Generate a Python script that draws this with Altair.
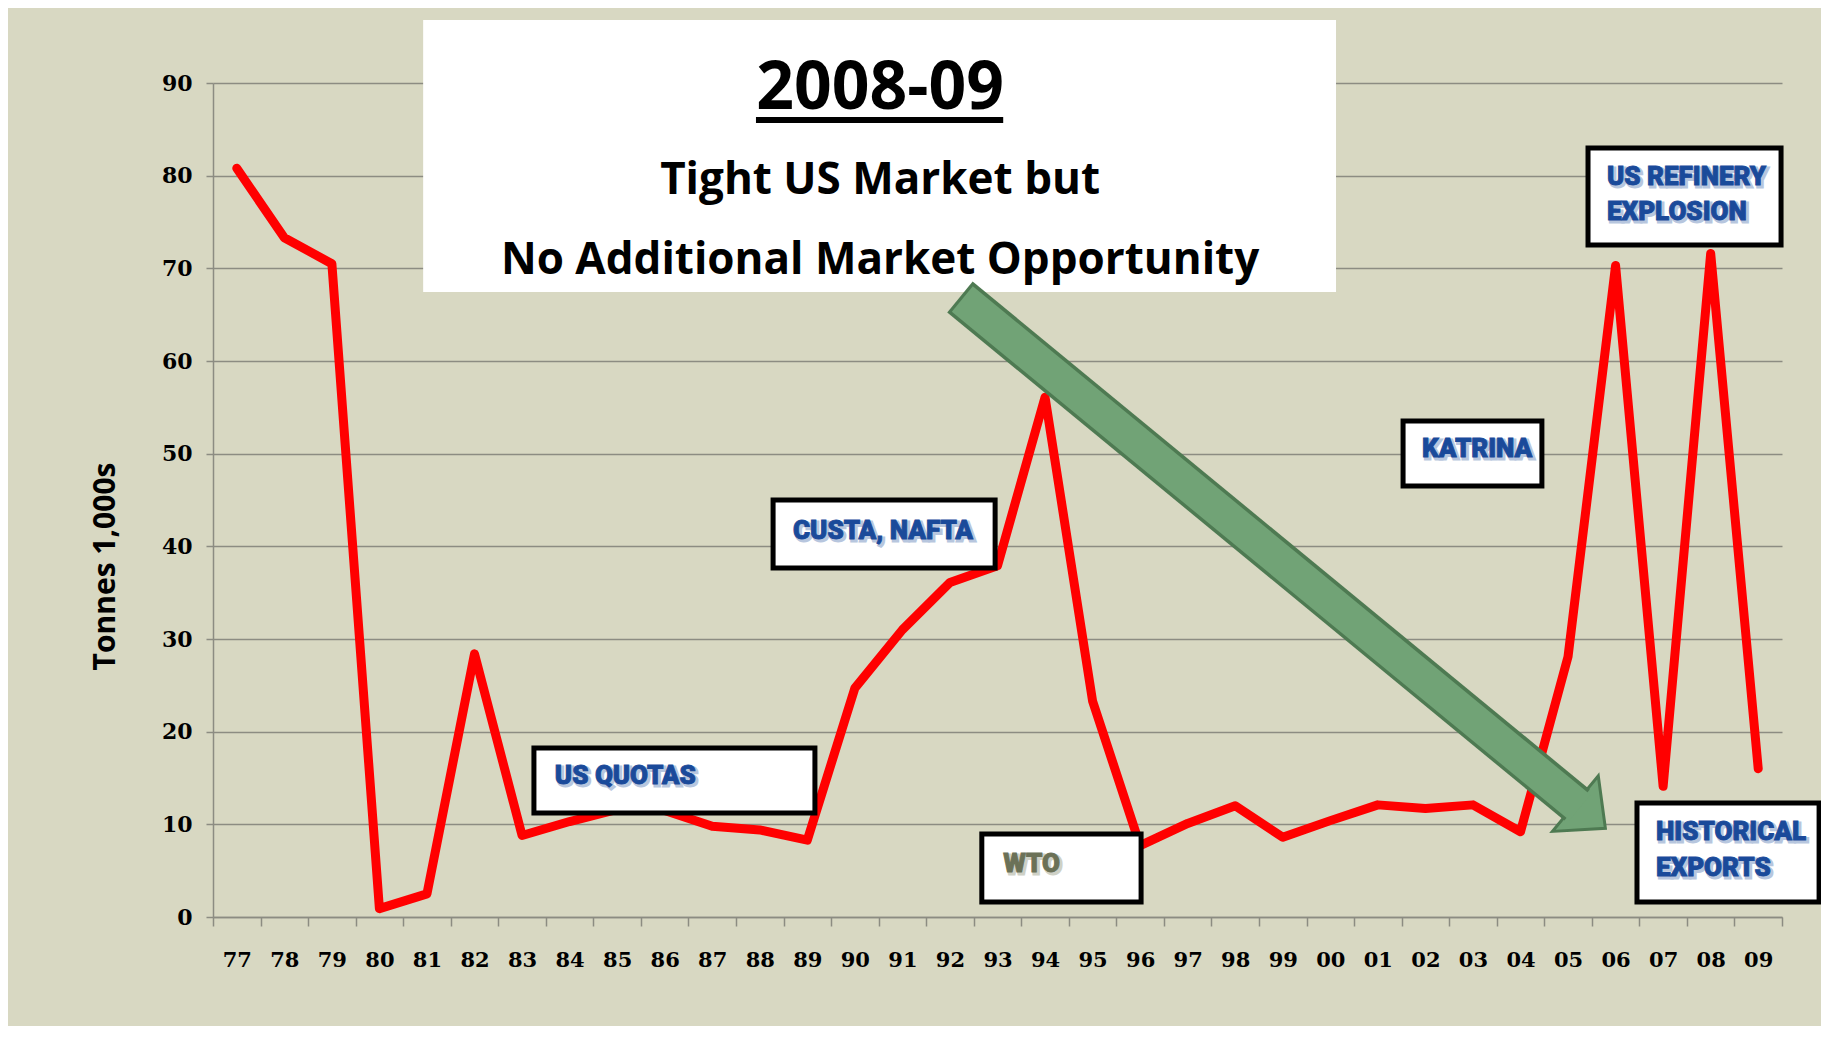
import altair as alt
import pandas as pd

# ---- data ----
years = ["77", "78", "79", "80", "81", "82", "83", "84", "85", "86", "87", "88",
         "89", "90", "91", "92", "93", "94", "95", "96", "97", "98", "99", "00",
         "01", "02", "03", "04", "05", "06", "07", "08", "09"]
tonnes = [80.8, 73.3, 70.5, 0.9, 2.5, 28.4, 8.8, 10.3, 11.6, 11.5, 9.8, 9.4,
          8.3, 24.7, 31.0, 36.1, 37.9, 56.1, 23.3, 7.7, 10.1, 12.0, 8.6, 10.4,
          12.1, 11.7, 12.1, 9.2, 28.1, 70.3, 14.1, 71.6, 16.0]
y_ticks = [0, 10, 20, 30, 40, 50, 60, 70, 80, 90]

# annotation boxes (data units: x = year index, y = tonnes)
box_x0 = [6.25, 11.28, 15.67, 24.53, 28.42, 29.45]
box_x1 = [12.16, 15.95, 19.02, 27.45, 32.48, 33.28]
box_y0 = [18.24, 45.0, 8.96, 53.52, 82.99, 12.30]
box_y1 = [11.22, 37.66, 1.62, 46.51, 72.52, 1.62]

ann_text = ["US QUOTAS", "CUSTA, NAFTA", "KATRINA", "US REFINERY", "EXPLOSION",
            "HISTORICAL", "EXPORTS"]
ann_x = [6.69, 11.70, 24.93, 28.82, 28.82, 29.85, 29.85]
ann_y = [15.22, 41.65, 50.50, 79.86, 76.08, 9.17, 5.29]
wto_text = ["WTO"]
wto_x = [16.12]
wto_y = [5.72]

title_box_x = [3.92, 23.12]
title_box_y = [96.80, 67.45]
head_text = ["2008-09"]
head_x = [13.53]
head_y = [89.3]
sub_text = ["Tight US Market but", "No Additional Market Opportunity"]
sub_x = [13.53, 13.53]
sub_y = [79.4, 70.8]
underline_x = [10.92, 16.12]
underline_y = [86.0]

shaft_x = [15.21, 28.19]
shaft_y = [66.91, 12.09]
shaft_in_x = [15.26, 28.25]
shaft_in_y = [66.70, 11.82]
arrow_head_x = [28.47]
arrow_head_y = [10.90]

# ---- styles ----
BG = "#D8D8C2"
GRID = "#8C8C82"
BLUE = "#1A4A9A"
SHADOW = "#7E98C4"
OLIVE = "#6B7157"
OLIVE_SH = "#A9AD98"
GREEN = "#71A376"
DKGREEN = "#4E7A52"

n = len(years)
df = pd.DataFrame({"x": list(range(n)), "y": tonnes, "year": years})

xs = alt.Scale(domain=[-0.5, n - 0.5], nice=False, zero=False)
ys = alt.Scale(domain=[0, 90], nice=False, zero=True)

label_expr = "[" + ",".join("'%s'" % y for y in years) + "][datum.value + 0.5] || ''"
x_axis = alt.Axis(
    values=[i - 0.5 for i in range(n + 1)], labelExpr=label_expr,
    labelOffset=23.77, labelFlush=False, labelOverlap=False, grid=False,
    domainColor=GRID, domainWidth=1.5, tickColor=GRID, tickWidth=1.5, tickSize=9,
    labelPadding=34, labelBaseline="middle", labelAlign="center",
    labelFont="DejaVu Serif", labelFontWeight="bold", labelFontSize=21,
    labelColor="#000000", title=None)
y_axis = alt.Axis(
    values=y_ticks, grid=True, gridColor=GRID, gridWidth=1.5,
    domainColor=GRID, domainWidth=1.5, tickColor=GRID, tickWidth=1.5, tickSize=7,
    labelPadding=14, labelFont="DejaVu Serif", labelFontWeight="bold",
    labelFontSize=22, labelColor="#000000",
    title="Tonnes 1,000s", titleFont="Open Sans", titleFontSize=30,
    titleFontWeight="bold", titleColor="#000000", titleAngle=270,
    titleX=-108, titleY=483, titleAlign="center", titleBaseline="middle")

X = alt.X("x:Q", scale=xs, axis=x_axis)
Y = alt.Y("y:Q", scale=ys, axis=y_axis)

line = alt.Chart(df).mark_line(
    color="#FF0000", strokeWidth=9, strokeCap="round", strokeJoin="round"
).encode(x=X, y=Y)

title_box = alt.Chart(pd.DataFrame({
    "x": [title_box_x[0]], "x2": [title_box_x[1]],
    "y": [title_box_y[0]], "y2": [title_box_y[1]]})
).mark_rect(fill="white", strokeWidth=0).encode(x=X, x2="x2:Q", y=Y, y2="y2:Q")

boxes = alt.Chart(pd.DataFrame({"x": box_x0, "x2": box_x1, "y": box_y0, "y2": box_y1})
).mark_rect(fill="white", stroke="black", strokeWidth=5).encode(
    x=X, x2="x2:Q", y=Y, y2="y2:Q")

ann_df = pd.DataFrame({"x": ann_x, "y": ann_y, "t": ann_text})
wto_df = pd.DataFrame({"x": wto_x, "y": wto_y, "t": wto_text})
text_kw = dict(align="left", baseline="middle", font="Roboto", fontWeight=900,
               fontSize=26)
ann_sh = alt.Chart(ann_df).mark_text(
    dx=2, dy=2, color=SHADOW, stroke=SHADOW, strokeWidth=3, opacity=0.55, **text_kw
).encode(x=X, y=Y, text="t:N")
ann = alt.Chart(ann_df).mark_text(
    color=BLUE, stroke=BLUE, strokeWidth=0.9, **text_kw).encode(x=X, y=Y, text="t:N")
wto_sh = alt.Chart(wto_df).mark_text(
    dx=2, dy=2, color=OLIVE_SH, stroke=OLIVE_SH, strokeWidth=3, opacity=0.55, **text_kw
).encode(x=X, y=Y, text="t:N")
wto = alt.Chart(wto_df).mark_text(
    color=OLIVE, stroke=OLIVE, strokeWidth=0.9, **text_kw).encode(x=X, y=Y, text="t:N")

head = alt.Chart(pd.DataFrame({"x": head_x, "y": head_y, "t": head_text})).mark_text(
    align="center", baseline="middle", font="Open Sans", fontWeight="bold",
    fontSize=66, color="black").encode(x=X, y=Y, text="t:N")
sub = alt.Chart(pd.DataFrame({"x": sub_x, "y": sub_y, "t": sub_text})).mark_text(
    align="center", baseline="middle", font="Open Sans", fontWeight="bold",
    fontSize=44, color="black").encode(x=X, y=Y, text="t:N")
underline = alt.Chart(pd.DataFrame({
    "x": [underline_x[0]], "x2": [underline_x[1]], "y": underline_y})
).mark_rule(color="black", strokeWidth=6).encode(x=X, x2="x2:Q", y=Y)

arrow_head = alt.Chart(pd.DataFrame({"x": arrow_head_x, "y": arrow_head_y})).mark_point(
    shape="M -0.54 -1 L 0.54 0 L -0.54 1 Z", size=5184, angle=39.5,
    filled=True, fill=GREEN, stroke=DKGREEN, strokeWidth=3, opacity=1
).encode(x=X, y=Y)
shaft_outer = alt.Chart(pd.DataFrame({"x": shaft_x, "y": shaft_y})).mark_line(
    color=DKGREEN, strokeWidth=40, strokeCap="butt").encode(x=X, y=Y)
shaft_inner = alt.Chart(pd.DataFrame({"x": shaft_in_x, "y": shaft_in_y})).mark_line(
    color=GREEN, strokeWidth=33, strokeCap="butt").encode(x=X, y=Y)

chart = alt.layer(
    line, title_box, boxes, ann_sh, ann, wto_sh, wto, head, sub, underline,
    arrow_head, shaft_outer, shaft_inner
).properties(
    width=1569, height=834, background=BG,
    padding={"left": 205, "top": 75, "right": 39, "bottom": 109},
    autosize=alt.AutoSizeParams(type="none"),
).configure_view(stroke=None)

chart.save("out.html", embed_options={"renderer": "svg", "actions": False})
